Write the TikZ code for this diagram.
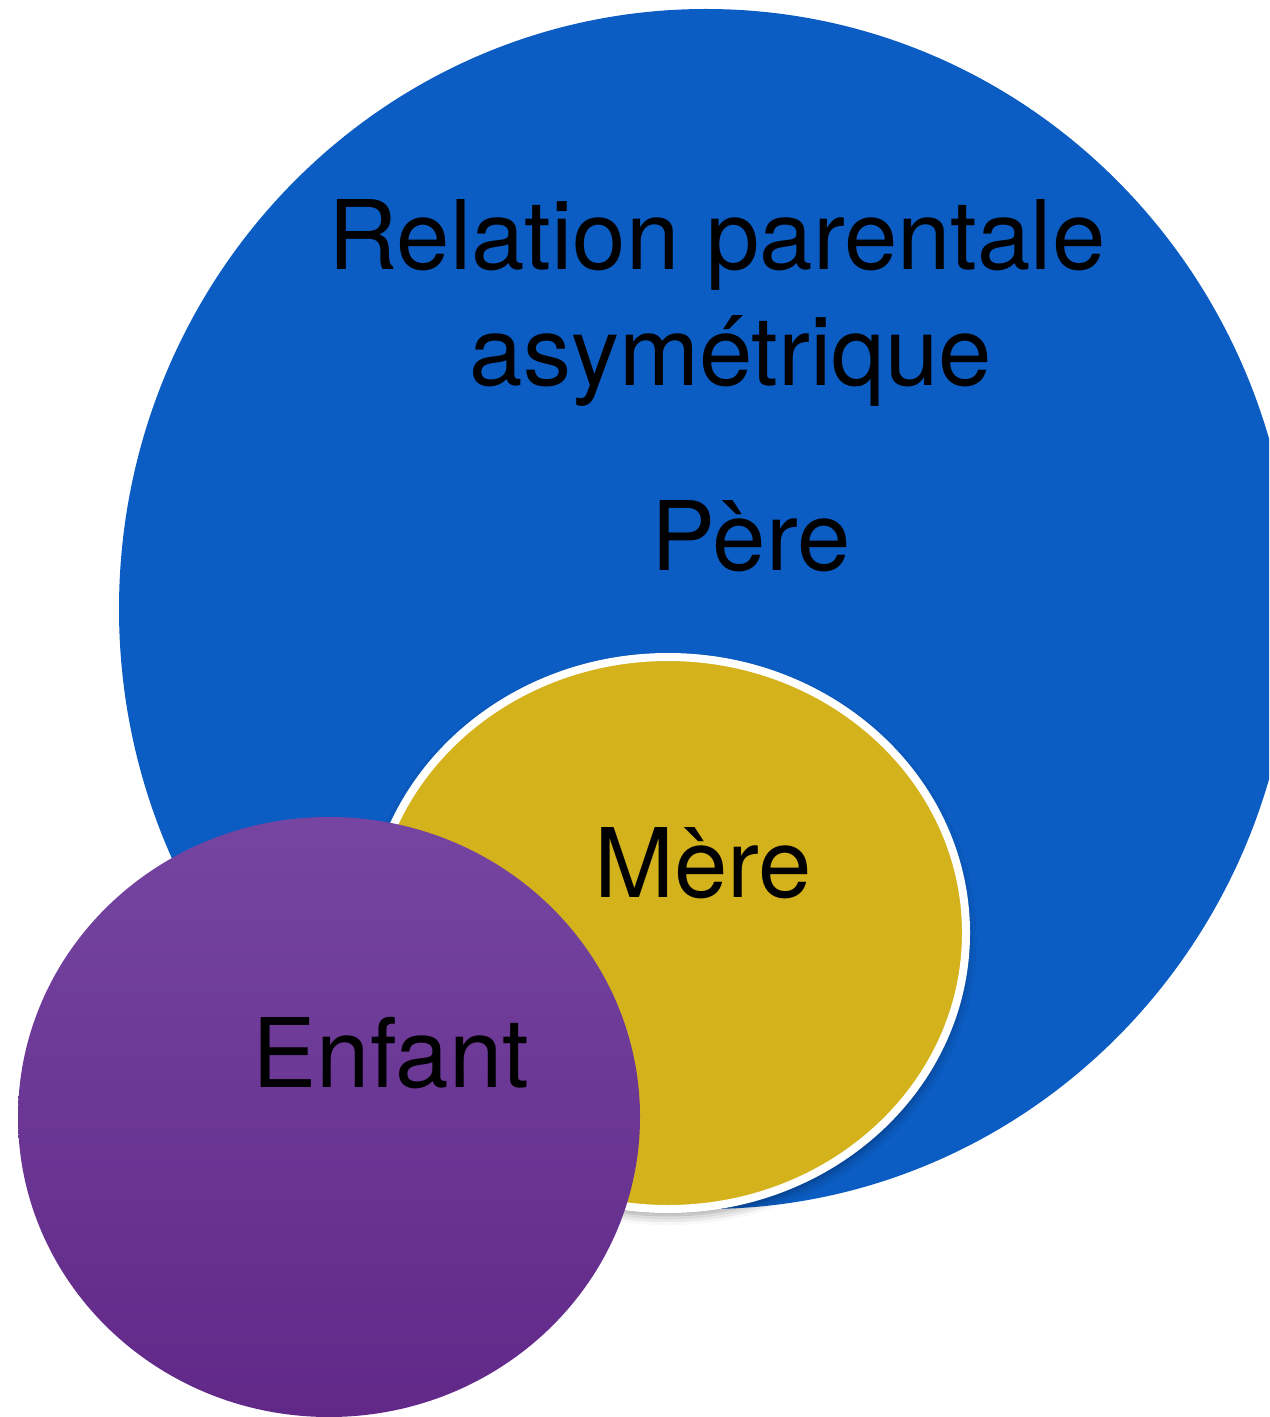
\documentclass[tikz,border=0pt]{standalone}
\usepackage{fontspec}
\setmainfont{TeX Gyre Heros}
\usetikzlibrary{shapes.geometric}
\usetikzlibrary{shadows.blur}
\definecolor{pereblue}{HTML}{0B5CC3}
\definecolor{mereyellow}{HTML}{D4B21C}
\definecolor{enfanttop}{HTML}{7545A1}
\definecolor{enfantbottom}{HTML}{612888}
\tikzset {
  set node/.style = {
    ellipse,
    inner sep = 0
  },
  % the big set
  pere/.style = {
    set node,
    fill = pereblue,
    minimum width = 587pt,
    minimum height = 600pt
  },
  % set inside, white rim and soft shadow
  mere/.style = {
    set node,
    fill = mereyellow,
    draw = white,
    line width = 4pt,
    minimum width = 298pt,
    minimum height = 276pt,
    blur shadow = {shadow xshift=0pt,shadow yshift=-3pt,shadow blur radius=5pt,shadow opacity=45}
  },
  % set sticking out, shaded
  enfant/.style = {
    set node,
    top color = enfanttop,
    bottom color = enfantbottom,
    minimum width = 311pt,
    minimum height = 300pt
  },
  set label/.style = {
    anchor = base,
    inner sep = 0,
    font = \fontsize{48}{58}\selectfont
  }
}
\begin{document}
\begin{tikzpicture}[x = 0.5pt, y = -0.5pt]
  \path[use as bounding box, clip] (0, 0) rectangle (1269, 1417);

  \node[pere] (pere) at (706, 609) {};
  \node[mere] (mere) at (668, 933) {};
  \node[enfant] (enfant) at (329, 1117) {};

  \node[set label] (titre-a) at (717, 270) {Relation parentale};
  \node[set label] (titre-b) at (731, 385) {asymétrique};
  \node[set label] (pere-label) at (751, 570) {Père};
  \node[set label] (mere-label) at (703, 897) {Mère};
  \node[set label] (enfant-label) at (391, 1087) {Enfant};
\end{tikzpicture}
\end{document}
